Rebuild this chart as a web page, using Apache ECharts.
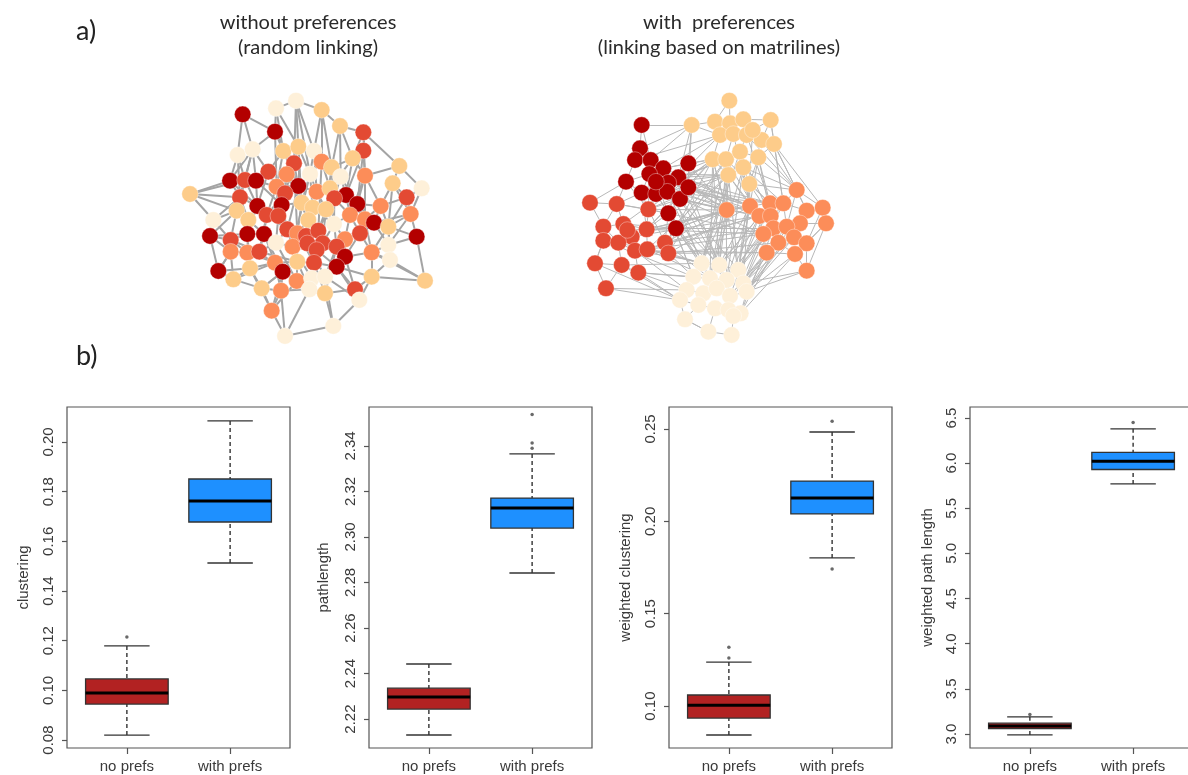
<!DOCTYPE html>
<html><head><meta charset="utf-8">
<script src="https://cdn.jsdelivr.net/npm/echarts@6/dist/echarts.min.js"></script>
<style>html,body{margin:0;padding:0;background:#fff}#c{width:1188px;height:775px}</style>
</head><body><div id="c"></div>
<script>
// ---------------- data ----------------
const categories = ['no prefs', 'with prefs'];
// box stats per category: [lower whisker, Q1, median, Q3, upper whisker]
const clusteringBoxes = [[0.0820, 0.0945, 0.0989, 0.1046, 0.1179], [0.1513, 0.1678, 0.1763, 0.1851, 0.2085]];
const clusteringOutliers = [[1, 0.1215]];
const clusteringTicks = [0.08, 0.10, 0.12, 0.14, 0.16, 0.18, 0.20];

const pathBoxes = [[2.2130, 2.2244, 2.2297, 2.2336, 2.2442], [2.2842, 2.3039, 2.3127, 2.3171, 2.3365]];
const pathOutliers = [[2, 2.3538], [2, 2.3413], [2, 2.3390]];
const pathTicks = [2.22, 2.24, 2.26, 2.28, 2.30, 2.32, 2.34];

const wClusteringBoxes = [[0.0843, 0.0935, 0.1005, 0.1060, 0.1238], [0.1802, 0.2040, 0.2126, 0.2218, 0.2484]];
const wClusteringOutliers = [[1, 0.1319], [1, 0.1260], [2, 0.2542], [2, 0.1742]];
const wClusteringTicks = [0.10, 0.15, 0.20, 0.25];

const wPathBoxes = [[2.99, 3.06, 3.09, 3.12, 3.19], [5.77, 5.93, 6.02, 6.12, 6.38]];
const wPathOutliers = [[1, 3.215], [2, 6.45]];
const wPathTicks = [3.0, 3.5, 4.0, 4.5, 5.0, 5.5, 6.0, 6.5];

const yTitles = ['clustering', 'pathlength', 'weighted clustering', 'weighted path length'];

// network nodes: [x, y, matriline group]
const groupColors = {C: '#fef0d9', L: '#fdcc8a', O: '#fc8d59', R: '#e34a33', D: '#b30000'};
const randomNodes = [
[378,62,'C'],[318,85,'C'],[218,103,'D'],[455,90,'L'],[510,138,'L'],[315,155,'D'],[580,157,'R'],[580,212,'R'],
[203,225,'C'],[248,208,'C'],[340,213,'L'],[385,200,'L'],[432,213,'C'],[548,235,'L'],[372,250,'R'],[455,245,'O'],
[485,262,'L'],[688,258,'L'],[295,275,'R'],[350,283,'O'],[420,282,'C'],[512,290,'C'],[585,287,'O'],[668,310,'L'],
[755,325,'C'],[60,342,'L'],[180,302,'D'],[225,300,'R'],[258,302,'D'],[320,320,'O'],[385,318,'D'],[440,335,'O'],
[480,325,'L'],[528,345,'D'],[345,340,'R'],[210,352,'R'],[493,355,'R'],[562,372,'D'],[710,352,'R'],[632,378,'O'],
[262,378,'D'],[200,392,'L'],[335,375,'D'],[395,368,'L'],[428,383,'L'],[468,388,'L'],[722,402,'O'],[130,420,'C'],
[235,420,'L'],[290,405,'R'],[325,408,'R'],[415,420,'L'],[492,432,'C'],[540,405,'O'],[585,418,'O'],[612,428,'D'],
[655,440,'L'],[120,468,'D'],[182,480,'R'],[232,462,'D'],[282,462,'D'],[352,448,'R'],[382,460,'O'],[408,468,'R'],
[445,452,'R'],[458,490,'R'],[525,478,'O'],[570,460,'R'],[740,470,'D'],[655,495,'C'],[182,515,'O'],[232,518,'O'],
[268,515,'R'],[318,488,'C'],[368,500,'O'],[412,490,'R'],[440,510,'R'],[500,500,'R'],[525,530,'D'],[605,517,'O'],
[660,540,'C'],[145,573,'D'],[240,565,'L'],[315,548,'O'],[382,545,'L'],[432,548,'R'],[500,560,'D'],[338,575,'D'],
[190,598,'L'],[380,603,'O'],[425,595,'C'],[465,590,'C'],[605,590,'L'],[765,602,'L'],[275,625,'L'],[333,632,'O'],
[418,628,'C'],[465,640,'L'],[555,628,'R'],[568,660,'C'],[305,692,'O'],[490,738,'C'],[345,768,'C']
];
const randomEdges = '2-5 2-8 2-9 1-0 1-5 0-3 0-11 3-4 3-12 4-6 4-13 6-7 6-17 1-10 5-10 5-9 8-26 8-27 9-18 9-28 25-26 25-41 25-47 25-35 47-57 47-41 57-81 57-58 81-88 81-70 88-94 88-82 94-100 100-102 102-101 101-99 101-97 99-98 99-92 92-93 93-80 93-68 68-46 68-56 24-17 24-38 24-46 17-23 23-38 38-46 100-95 102-96 94-95 ' +
'10-14 11-14 12-15 12-16 13-16 13-22 14-19 15-20 16-21 18-29 19-29 19-34 20-31 21-32 21-36 22-37 22-39 23-39 26-27 27-28 28-29 27-35 29-30 30-31 31-32 32-33 33-36 33-37 34-42 35-40 35-41 36-45 37-53 37-54 38-39 39-55 40-49 40-48 41-48 42-43 42-50 43-44 44-45 44-51 45-52 46-56 48-59 49-50 49-60 50-61 51-63 51-64 52-53 52-66 53-54 54-55 55-56 55-67 56-69 57-70 58-59 58-71 59-60 60-72 61-62 61-73 62-63 63-64 64-65 65-66 65-77 66-67 67-79 69-79 69-80 70-71 71-72 72-73 73-74 74-75 75-76 76-77 77-78 78-79 78-86 79-80 82-83 83-84 83-87 84-85 85-86 85-90 86-91 87-89 89-90 90-91 91-97 92-98 95-96 96-97 97-98 ' +
'14-62 20-74 11-43 15-64 30-61 19-51 18-40 29-49 31-63 36-64 33-53 16-45 20-44 7-33 7-22 13-32 10-30 28-42 59-82 60-83 72-87 74-84 75-85 76-86 62-74 63-75 64-76 65-78 66-78 77-91 84-89 42-61 43-62 45-65 48-71 49-72 50-73 41-58 35-48 26-35 27-40 9-27 10-18 12-20 16-32 21-33 22-54 23-56 39-54 46-55 68-69 80-92 98-86 82-94 87-95 89-96 5-14 0-12 3-15 4-16 6-13 11-20 14-30 19-43 34-50 42-49 44-63 51-62 52-65 53-66 54-67 56-79 37-55 36-52 32-45 31-44 30-43 29-42 28-40 60-73 61-74 71-82 70-81 58-70 ' +
'0-20 5-29 9-35 47-58 57-59 25-27 81-82 88-83 94-87 100-87 100-89 102-95 101-91 99-91 92-86 93-79 17-22 38-56 46-69 ' +
'1-11 0-14 3-16 4-21 6-22 7-37 9-26 8-35 10-29 11-30 12-31 13-33 14-34 15-32 16-36 18-28 19-42 20-43 21-37 22-53 23-46 26-40 27-41 29-50 31-45 32-52 33-54 34-49 36-53 37-39 39-56 40-59 41-57 43-51 44-52 45-64 47-35 48-60 49-61 50-62 51-65 52-77 53-67 54-79 55-69 56-80 58-72 59-71 60-87 61-84 62-85 63-76 64-77 66-86 67-78 70-88 71-83 72-84 73-89 74-90 75-91 76-96 77-97 78-98 79-92 82-100 83-95 84-96 85-97 86-99 87-94';

const matrilineNodes = [
[215,135,'D'],[210,205,'D'],[195,240,'D'],[242,240,'D'],[280,265,'D'],[355,250,'D'],[168,305,'D'],[238,282,'D'],
[325,292,'D'],[295,308,'D'],[215,338,'D'],[258,342,'D'],[292,335,'D'],[330,357,'D'],[355,322,'D'],[295,400,'D'],
[318,445,'D'],[258,305,'D'],
[60,368,'R'],[140,372,'R'],[235,388,'R'],[100,440,'R'],[160,432,'R'],[185,470,'R'],[230,448,'R'],[100,482,'R'],
[145,488,'R'],[195,512,'R'],[232,508,'R'],[285,488,'R'],[295,520,'R'],[75,550,'R'],[155,555,'R'],[205,578,'R'],
[108,625,'R'],[172,450,'R'],
[478,62,'L'],[365,135,'L'],[435,125,'L'],[480,130,'L'],[520,118,'L'],[602,120,'L'],[450,165,'L'],[490,162,'L'],
[530,165,'L'],[575,180,'L'],[612,192,'L'],[428,238,'L'],[468,238,'L'],[510,215,'L'],[565,232,'L'],[520,262,'L'],
[475,285,'L'],[538,312,'L'],[548,150,'L'],
[680,330,'O'],[540,378,'O'],[600,370,'O'],[640,370,'O'],[470,390,'O'],[758,383,'O'],[568,408,'O'],[602,408,'O'],
[710,392,'O'],[768,430,'O'],[690,430,'O'],[610,445,'O'],[650,440,'O'],[580,462,'O'],[625,488,'O'],[672,472,'O'],
[710,490,'O'],[590,518,'O'],[675,522,'O'],[710,572,'O'],
[395,550,'C'],[448,555,'C'],[505,570,'C'],[370,590,'C'],[420,595,'C'],[470,600,'C'],[520,610,'C'],[350,630,'C'],
[400,640,'C'],[440,625,'C'],[480,648,'C'],[530,635,'C'],[330,660,'C'],[385,675,'C'],[435,685,'C'],[475,690,'C'],
[512,700,'C'],[345,718,'C'],[490,708,'C'],[415,755,'C'],[485,765,'C']
];
const matrilineEdges = '0-37 0-1 18-19 18-21 18-6 34-31 34-82 34-87 31-25 95-94 94-92 74-73 74-86 64-60 60-55 41-46 46-55 36-39 36-38 41-40 41-45 37-38 37-42 31-87 33-87 74-81 64-74 46-60 ' +
'1-2 1-3 2-3 2-6 3-4 3-7 4-17 4-5 5-14 5-8 6-10 7-17 7-10 8-9 8-14 9-12 9-17 10-11 11-12 12-13 13-14 13-15 15-16 11-15 6-7 12-17 0-3 8-13 ' +
'19-22 19-20 20-24 21-22 21-25 22-35 23-35 23-24 23-27 24-28 25-26 26-27 26-32 27-28 28-29 29-30 30-28 31-32 32-33 33-27 34-32 21-26 22-24 20-29 19-21 25-31 ' +
'39-40 40-54 54-41 42-43 43-44 44-45 45-46 42-47 43-48 44-49 49-50 50-46 47-48 48-49 48-52 49-51 51-52 51-53 52-59 53-50 38-42 39-43 40-44 54-45 47-52 50-51 ' +
'55-58 55-63 56-57 57-58 56-59 56-61 57-62 58-63 58-67 60-63 61-62 61-68 62-66 63-65 64-65 65-67 65-70 66-67 66-69 67-70 68-69 68-72 69-72 69-73 70-71 71-73 71-74 72-73 64-71 59-61 ' +
'75-76 75-78 76-77 76-79 77-80 77-81 78-79 78-82 79-80 79-84 80-85 81-86 82-83 82-87 83-84 83-88 84-85 85-86 85-90 86-91 87-88 87-92 88-89 89-90 90-91 90-93 92-94 93-95 94-89 91-93 88-92 ' +
'5-37 5-47 14-47 8-52 9-48 14-59 12-52 13-59 4-42 3-37 17-47 1-37 14-56 13-61 16-59 15-68 8-56 12-57 16-66 9-62 16-75 15-78 13-76 16-79 12-80 11-75 ' +
'10-19 10-20 11-20 15-20 16-29 6-19 7-20 15-24 16-30 20-47 29-52 24-59 30-48 29-59 30-56 28-61 24-68 30-72 29-66 30-75 30-78 28-75 33-78 27-82 32-87 29-79 33-82 ' +
'52-56 53-56 53-57 51-55 50-55 46-58 59-47 52-61 53-62 48-57 52-75 47-76 59-76 59-77 48-80 51-79 53-77 68-77 72-81 69-86 61-76 59-79 66-80 72-86 73-91 56-77 62-81 ' +
'59-75 59-16 47-16 48-75 52-79 56-76 61-80 14-57 8-48 9-52 ' +
'5-59 14-61 8-57 9-56 12-62 13-68 17-59 4-56 3-59 14-76 13-77 9-75 12-79 8-80 15-76 16-80 17-78 20-59 24-56 28-68 29-61 30-69 23-59 27-72 ' +
'20-52 24-47 29-48 22-47 28-52 47-79 48-76 51-80 52-77 53-81 49-75 50-77 57-77 58-80 63-81 65-86 67-85 70-81 62-76 66-77 ' +
'49-56 50-57 51-58 47-59 48-61 44-55 16-24 15-29 13-20 14-24 37-14 37-8 41-58 55-53 ' +
'4-47 7-52 10-24 11-59 2-42 6-20 19-15 22-16 26-75 25-78 32-75 35-16 23-61 27-76 28-79 33-80 42-8 43-56 44-57 45-55 46-63 49-62 54-53 50-66 ' +
'57-76 58-81 63-86 64-73 60-71 67-91 69-81 70-86 72-85 73-86 55-67 56-80 61-85 62-90 66-91 68-84';

// ---------------- chart ----------------
const chart = echarts.init(document.getElementById('c'), null, {renderer: 'canvas'});
const FONT = 'Liberation Sans, Arial, sans-serif';
const TXT = '#3a3a3a';

const panels = [
  {left: 67,  boxes: clusteringBoxes,  outliers: clusteringOutliers,  ticks: clusteringTicks,  min: 0.0768, max: 0.2141, dec: 2, gap: 36},
  {left: 369, boxes: pathBoxes,        outliers: pathOutliers,        ticks: pathTicks,        min: 2.2073, max: 2.3571, dec: 2, gap: 38},
  {left: 669, boxes: wClusteringBoxes, outliers: wClusteringOutliers, ticks: wClusteringTicks, min: 0.0773, max: 0.2619, dec: 2, gap: 36},
  {left: 970, boxes: wPathBoxes,       outliers: wPathOutliers,       ticks: wPathTicks,       min: 2.845,  max: 6.622,  dec: 1, gap: 35}
];
const boxFill = ['#b22222', '#1e90ff'];

const grids = [], xAxes = [], yAxes = [], series = [];
panels.forEach((p, i) => {
  grids.push({left: p.left, top: 407, width: 223, height: 341, show: true, borderColor: '#555', borderWidth: 1.2,
              backgroundColor: 'transparent', outerBoundsMode: 'none', containLabel: false});
  xAxes.push({
    type: 'value', gridIndex: i, min: 0.42, max: 2.58,
    axisLine: {show: false}, splitLine: {show: false},
    axisTick: {show: true, customValues: [1, 2], length: 6, lineStyle: {color: '#555', width: 1.2}},
    axisLabel: {customValues: [1, 2], formatter: v => categories[Math.round(v) - 1] || '', color: TXT, fontSize: 15, fontFamily: FONT, margin: 11}
  });
  yAxes.push({
    type: 'value', gridIndex: i, min: p.min, max: p.max,
    axisLine: {show: false}, splitLine: {show: false},
    axisTick: {show: true, customValues: p.ticks, length: 5, lineStyle: {color: '#555', width: 1.2}},
    axisLabel: {customValues: p.ticks, rotate: 90, formatter: v => v.toFixed(p.dec), color: TXT, fontSize: 15, fontFamily: FONT, margin: 11},
    name: yTitles[i], nameLocation: 'middle', nameRotate: 90, nameGap: p.gap,
    nameTextStyle: {color: TXT, fontSize: 15, fontFamily: FONT}
  });
  series.push({
    type: 'custom', xAxisIndex: i, yAxisIndex: i, silent: true,
    data: p.boxes.map((b, k) => [k + 1].concat(b)),
    encode: {x: 0, y: [1, 2, 3, 4, 5]},
    renderItem: function (params, api) {
      const x = api.value(0), lo = api.value(1), q1 = api.value(2), md = api.value(3), q3 = api.value(4), hi = api.value(5);
      const hw = 0.4, cw = 0.22;
      const pt = (a, b) => api.coord([a, b]);
      const ln = (a, b, st) => ({type: 'line', shape: {x1: a[0], y1: a[1], x2: b[0], y2: b[1]}, style: st});
      const dash = {stroke: '#333', lineWidth: 1.4, lineDash: [4, 3]};
      const solid = {stroke: '#333', lineWidth: 1.4};
      const tl = pt(x - hw, q3), br = pt(x + hw, q1);
      return {type: 'group', children: [
        ln(pt(x, hi), pt(x, q3), dash),
        ln(pt(x, lo), pt(x, q1), dash),
        ln(pt(x - cw, hi), pt(x + cw, hi), solid),
        ln(pt(x - cw, lo), pt(x + cw, lo), solid),
        {type: 'rect', shape: {x: tl[0], y: tl[1], width: br[0] - tl[0], height: br[1] - tl[1]},
         style: {fill: boxFill[params.dataIndex], stroke: '#333', lineWidth: 1.3}},
        ln(pt(x - hw, md), pt(x + hw, md), {stroke: '#000', lineWidth: 3})
      ]};
    }
  });
  series.push({
    type: 'scatter', xAxisIndex: i, yAxisIndex: i, silent: true, symbol: 'circle', symbolSize: 3.5,
    itemStyle: {color: '#444'}, data: p.outliers
  });
});

// network panels
const nets = [
  {left: 170, width: 280, xmax: 840, nodes: randomNodes, edges: randomEdges, ec: '#a4a4a4', ew: 2.0},
  {left: 570, width: 270, xmax: 810, nodes: matrilineNodes, edges: matrilineEdges, ec: '#b8b8b8', ew: 1.0}
];
nets.forEach((n, j) => {
  const gi = 4 + j;
  grids.push({left: n.left, top: 80, width: n.width, height: 270, show: false, outerBoundsMode: 'none', containLabel: false});
  xAxes.push({type: 'value', gridIndex: gi, min: 0, max: n.xmax, show: false});
  yAxes.push({type: 'value', gridIndex: gi, min: 0, max: 810, inverse: true, show: false});
  series.push({
    type: 'graph', coordinateSystem: 'cartesian2d', xAxisIndex: gi, yAxisIndex: gi, layout: 'none', silent: true,
    symbol: 'circle', symbolSize: 16.5,
    data: n.nodes.map(d => ({value: [d[0], d[1]], itemStyle: {color: groupColors[d[2]], borderColor: 'rgba(255,255,255,0.6)', borderWidth: 0.6}})),
    links: n.edges.trim().split(/\s+/).map(s => { const q = s.split('-'); return {source: +q[0], target: +q[1]}; }),
    lineStyle: {color: n.ec, width: n.ew, opacity: 1, curveness: 0},
    label: {show: false}
  });
});

const TF = 'Lato, "Open Sans", sans-serif';
const option = {
  animation: false,
  backgroundColor: '#fff',
  grid: grids, xAxis: xAxes, yAxis: yAxes, series: series,
  graphic: [
    {type: 'text', left: 76, top: 18, style: {text: 'a)', font: '27px ' + TF, fill: '#222'}},
    {type: 'text', left: 76, top: 343, style: {text: 'b)', font: '27px ' + TF, fill: '#222'}},
    {type: 'text', x: 308, y: 23, style: {text: 'without preferences', font: '20px ' + TF, fill: '#2a2a2a', align: 'center', verticalAlign: 'middle'}},
    {type: 'text', x: 308, y: 48, style: {text: '(random linking)', font: '20px ' + TF, fill: '#2a2a2a', align: 'center', verticalAlign: 'middle'}},
    {type: 'text', x: 719, y: 23, style: {text: 'with  preferences', font: '20px ' + TF, fill: '#2a2a2a', align: 'center', verticalAlign: 'middle'}},
    {type: 'text', x: 719, y: 48, style: {text: '(linking based on matrilines)', font: '20px ' + TF, fill: '#2a2a2a', align: 'center', verticalAlign: 'middle'}}
  ]
};
chart.setOption(option);
</script></body></html>
